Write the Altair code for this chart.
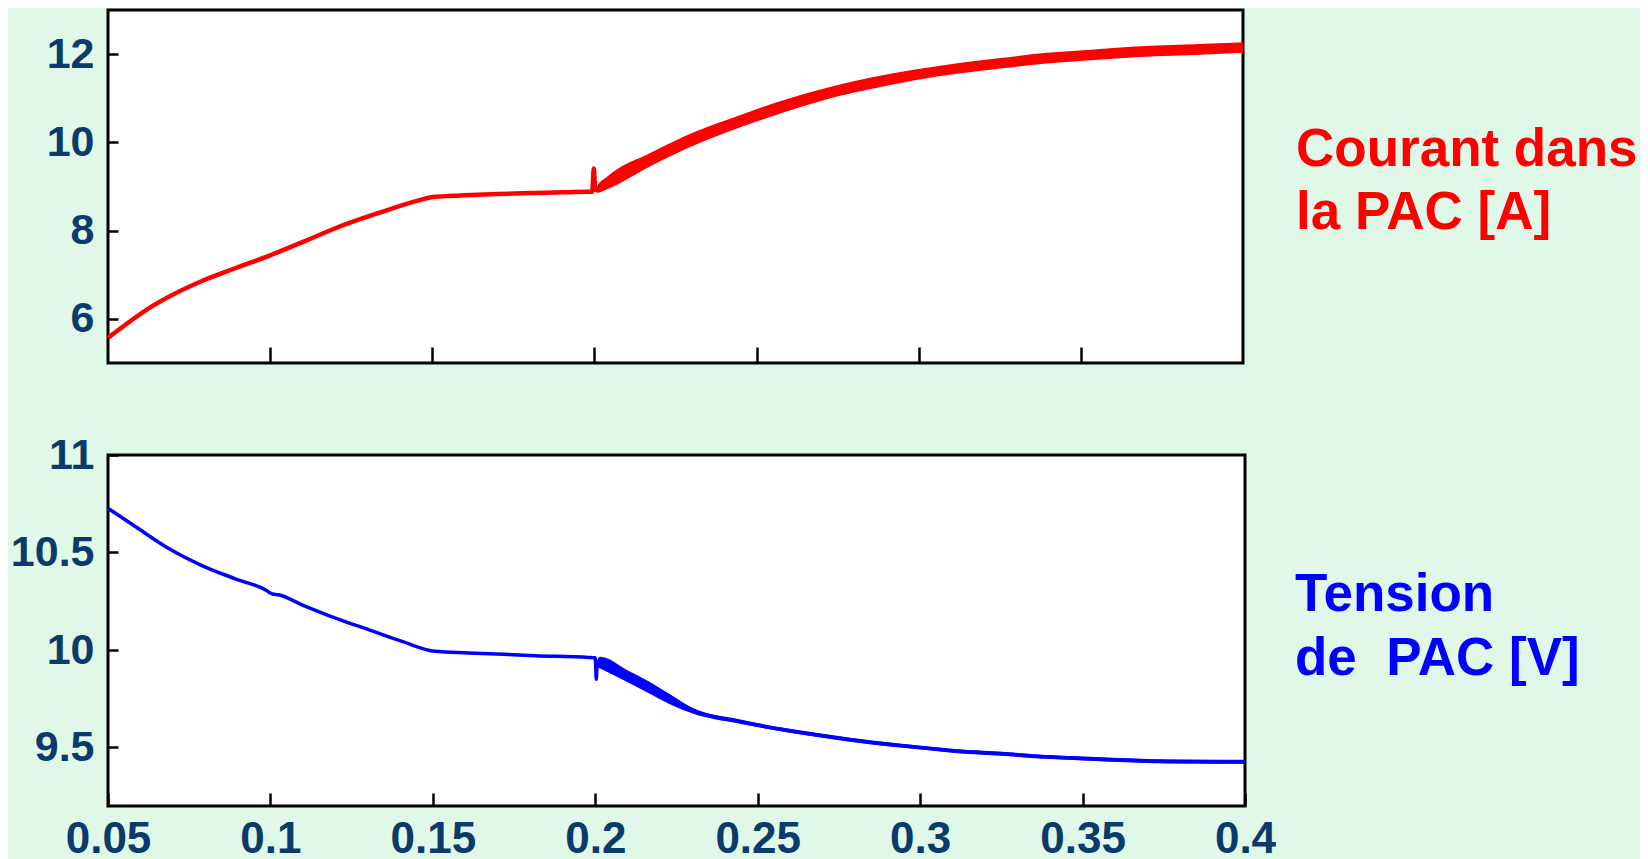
import altair as alt
import pandas as pd

# ---- Courant dans la PAC [A] (top panel) ----
t_cur = [0.05, 0.0639, 0.0793, 0.09, 0.1, 0.11, 0.1203, 0.1335, 0.1461, 0.15,
         0.16, 0.17, 0.18, 0.19, 0.1985, 0.1993, 0.1998, 0.2003, 0.2008, 0.2039,
         0.2175, 0.231, 0.2446, 0.258, 0.2717, 0.2853, 0.2988, 0.3124, 0.326,
         0.3395, 0.3531, 0.3667, 0.3802, 0.39, 0.4]
i_cur = [5.57, 6.30, 6.87, 7.17, 7.44, 7.74, 8.06, 8.40, 8.69, 8.76,
         8.80, 8.83, 8.85, 8.87, 8.88, 8.88, 9.41, 8.92, 8.93, 9.08,
         9.62, 10.09, 10.47, 10.81, 11.11, 11.34, 11.53, 11.68, 11.80,
         11.91, 11.98, 12.05, 12.09, 12.12, 12.15]
i_ripple = [0, 0, 0, 0, 0, 0, 0, 0, 0, 0,
            0, 0, 0, 0, 0, 0, 0, 0, 0.07, 0.14,
            0.15, 0.15, 0.14, 0.14, 0.13, 0.13, 0.12, 0.12, 0.12,
            0.12, 0.12, 0.12, 0.12, 0.12, 0.12]

# ---- Tension de PAC [V] (bottom panel) ----
t_volt = [0.05, 0.0584, 0.0687, 0.0789, 0.0892, 0.0984, 0.1005, 0.1025, 0.1097,
          0.12, 0.1302, 0.1405, 0.1507, 0.161, 0.1815, 0.198, 0.2, 0.2003, 0.2006,
          0.2015, 0.21, 0.2168, 0.2236, 0.2304, 0.2439, 0.2575, 0.271, 0.2845,
          0.2981, 0.3116, 0.3252, 0.3387, 0.3522, 0.3658, 0.3793, 0.4]
v_volt = [10.727, 10.633, 10.52, 10.433, 10.365, 10.309, 10.288, 10.283, 10.232,
          10.164, 10.104, 10.044, 9.993, 9.985, 9.971, 9.962, 9.96, 9.85, 9.93,
          9.935, 9.865, 9.806, 9.742, 9.686, 9.635, 9.592, 9.558, 9.527,
          9.503, 9.481, 9.468, 9.452, 9.442, 9.433, 9.428, 9.427]
v_ripple = [0, 0, 0, 0, 0, 0, 0, 0, 0,
            0, 0, 0, 0, 0, 0, 0, 0, 0, 0.018,
            0.03, 0.03, 0.03, 0.025, 0.014, 0.011, 0.01, 0.01, 0.01,
            0.01, 0.01, 0.01, 0.01, 0.01, 0.01, 0.01, 0.01]

x_ticks_top = [0.1, 0.15, 0.2, 0.25, 0.3, 0.35]
x_ticks_bottom = [0.05, 0.1, 0.15, 0.2, 0.25, 0.3, 0.35, 0.4]
y_ticks_top = [6, 8, 10, 12]
y_ticks_bottom = [9.5, 10, 10.5, 11]

label_top = ["Courant dans", "la PAC [A]"]
label_bottom = ["Tension", "de\u00a0\u00a0PAC [V]"]

RED = "#ff0000"
BLUE = "#0000ff"
NAVY = "#0b3a6b"
FONT = "Liberation Sans"

df_i = pd.DataFrame({"t": t_cur, "i": i_cur, "r": i_ripple})
df_i["hi"] = df_i["i"] + df_i["r"]
df_i["lo"] = df_i["i"] - df_i["r"]
df_v = pd.DataFrame({"t": t_volt, "v": v_volt, "r": v_ripple})
df_v["hi"] = df_v["v"] + df_v["r"]
df_v["lo"] = df_v["v"] - df_v["r"]

x_scale = alt.Scale(domain=[0.05, 0.4], nice=False, zero=False)

x_top = alt.X("t:Q", scale=x_scale,
              axis=alt.Axis(values=x_ticks_top, labels=False, domain=False, grid=False,
                            offset=-16, tickSize=16, tickWidth=2.5, tickColor="black",
                            title=None))
x_bot = alt.X("t:Q", scale=x_scale,
              axis=alt.Axis(values=x_ticks_bottom, format="~g", domain=False, grid=False,
                            offset=-13, tickSize=13, tickWidth=2.5, tickColor="black",
                            labelPadding=11, labelFontSize=44, labelFlush=False,
                            labelOverlap=False, title=None))

y_scale_top = alt.Scale(domain=[5, 13], nice=False, zero=False)
y_scale_bot = alt.Scale(domain=[9.2, 11], nice=False, zero=False)

y_axis_top = alt.Axis(values=y_ticks_top, format="d", domain=False, grid=False,
                      offset=-10, tickSize=10, tickWidth=2.5, tickColor="black",
                      labelPadding=14, title=None)
y_axis_bot = alt.Axis(values=y_ticks_bottom, format="~g", domain=False, grid=False,
                      offset=-10, tickSize=10, tickWidth=2.5, tickColor="black",
                      labelPadding=14, title=None)

base_i = alt.Chart(df_i)
area_i = base_i.mark_area(color=RED, opacity=1, interpolate="monotone").encode(
    x=x_top, y=alt.Y("hi:Q", scale=y_scale_top, axis=y_axis_top), y2="lo:Q")
line_i = base_i.mark_line(color=RED, strokeWidth=4.5, interpolate="monotone").encode(
    x=alt.X("t:Q", scale=x_scale), y=alt.Y("i:Q", scale=y_scale_top))
text_i = alt.Chart(pd.DataFrame({"k": [0]})).mark_text(
    text=label_top, align="left", baseline="alphabetic", font=FONT, fontWeight="bold",
    fontSize=53, lineHeight=63, color=RED).encode(x=alt.value(1188), y=alt.value(156))

top = alt.layer(area_i, line_i, text_i).properties(width=1135, height=353)

base_v = alt.Chart(df_v)
area_v = base_v.mark_area(color=BLUE, opacity=1, interpolate="monotone").encode(
    x=x_bot, y=alt.Y("hi:Q", scale=y_scale_bot, axis=y_axis_bot), y2="lo:Q")
line_v = base_v.mark_line(color=BLUE, strokeWidth=3.5, interpolate="monotone").encode(
    x=alt.X("t:Q", scale=x_scale), y=alt.Y("v:Q", scale=y_scale_bot))
text_v = alt.Chart(pd.DataFrame({"k": [0]})).mark_text(
    text=label_bottom, align="left", baseline="alphabetic", font=FONT, fontWeight="bold",
    fontSize=53, lineHeight=64, color=BLUE).encode(x=alt.value(1187), y=alt.value(156))

bottom = alt.layer(area_v, line_v, text_v).properties(width=1137, height=351)

chart = alt.vconcat(top, bottom, spacing=66).properties(
    background="#dff8e7",
    padding={"left": 0, "top": 0, "right": 0, "bottom": 0},
).configure_view(
    stroke="black", strokeWidth=3, fill="white"
).configure_axis(
    labelFont=FONT, labelFontSize=43, labelFontWeight="bold", labelColor=NAVY
)

chart.save("out.html", embed_options={"renderer": "svg", "actions": False})
